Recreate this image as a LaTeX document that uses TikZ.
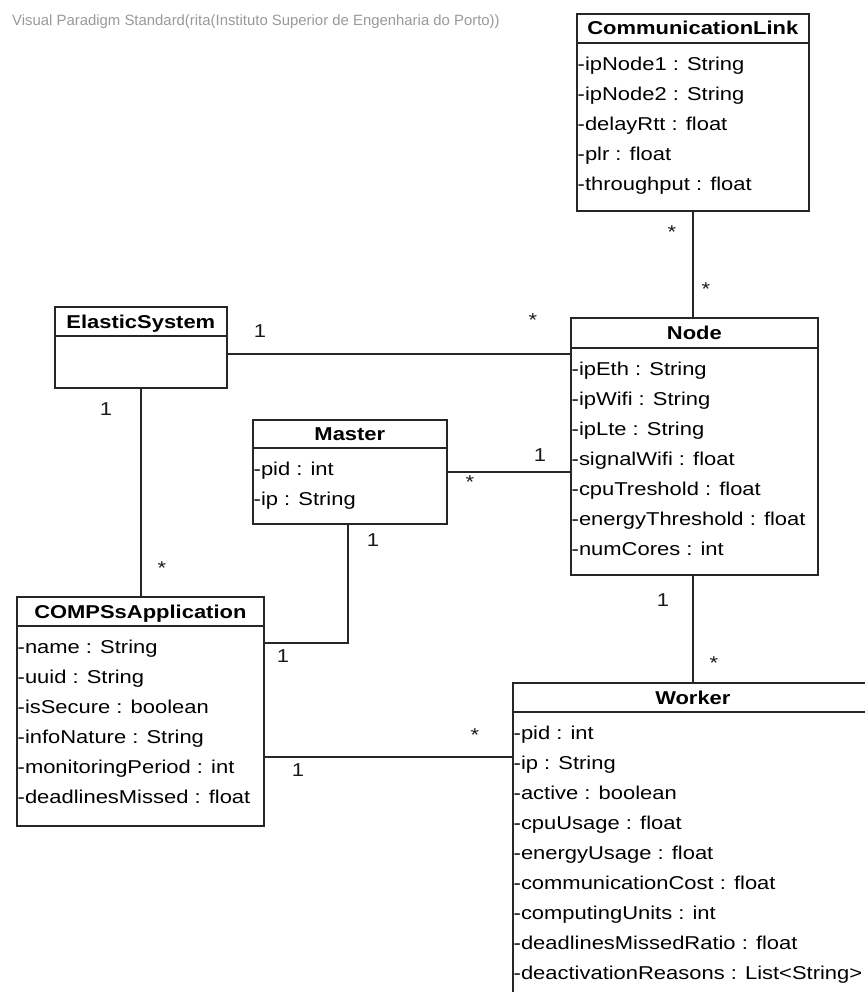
\documentclass[tikz,border=0pt]{standalone}
\usepackage{fontspec}
\newfontfamily\umlfont[FakeStretch=1.18]{Liberation Sans}
\newfontfamily\vpfont{Liberation Sans}

\begin{document}
\begin{tikzpicture}[x=1pt, y=-1pt,
    cls/.style={draw=black!85, line width=1.7pt, fill=white, anchor=north west,
                inner sep=0pt},
    clsname/.style={anchor=base, inner sep=0pt,
                    font=\umlfont\bfseries\fontsize{18.6}{22}\selectfont},
    attrs/.style={anchor=north west, align=left, inner xsep=1.5pt, inner ysep=6pt,
                  font=\umlfont\fontsize{18.6}{30}\selectfont},
    hline/.style={draw=black!85, line width=1.7pt},
    mult/.style={inner sep=0pt, text=black!90,
                 font=\umlfont\fontsize{18.6}{22}\selectfont},
    assoc/.style={draw=black!85, line width=1.4pt}]
  \useasboundingbox (0,0) rectangle (864,992);

  \node[anchor=base west, inner sep=0pt, text=black!40,
        font=\vpfont\fontsize{14.9}{16}\selectfont] (vp) at (12,26)
        {Visual Paradigm Standard(rita(Instituto Superior de Engenharia do Porto))};

  % classes
  \node[cls, minimum width=232pt, minimum height=197pt] (link) at (576,13) {};
  \node[clsname] (linkN) at ([yshift=-22pt]link.north) {CommunicationLink};
  \draw[hline] ([yshift=-30pt]link.north west) -- ([yshift=-30pt]link.north east);
  \node[attrs] (linkA) at ([yshift=-30pt]link.north west)
    {\strut-ipNode1 : String\\-ipNode2 : String\\-delayRtt : float\\-plr : float\\-throughput : float};

  \node[cls, minimum width=247pt, minimum height=257pt] (nd) at (570,317) {};
  \node[clsname] (ndN) at ([yshift=-22pt]nd.north) {Node};
  \draw[hline] ([yshift=-31pt]nd.north west) -- ([yshift=-31pt]nd.north east);
  \node[attrs] (ndA) at ([yshift=-31pt]nd.north west)
    {\strut-ipEth : String\\-ipWifi : String\\-ipLte : String\\-signalWifi : float\\
     -cpuTreshold : float\\-energyThreshold : float\\-numCores : int};

  \node[cls, minimum width=172pt, minimum height=81pt] (es) at (54,306) {};
  \node[clsname] (esN) at ([yshift=-22pt]es.north) {ElasticSystem};
  \draw[hline] ([yshift=-30pt]es.north west) -- ([yshift=-30pt]es.north east);

  \node[cls, minimum width=194pt, minimum height=104pt] (ms) at (252,419) {};
  \node[clsname] (msN) at ([yshift=-21pt]ms.north) {Master};
  \draw[hline] ([yshift=-29pt]ms.north west) -- ([yshift=-29pt]ms.north east);
  \node[attrs] (msA) at ([yshift=-29pt]ms.north west)
    {\strut-pid : int\\-ip : String};

  \node[cls, minimum width=247pt, minimum height=229pt] (app) at (16,596) {};
  \node[clsname] (appN) at ([yshift=-22pt]app.north) {COMPSsApplication};
  \draw[hline] ([yshift=-30pt]app.north west) -- ([yshift=-30pt]app.north east);
  \node[attrs] (appA) at ([yshift=-30pt]app.north west)
    {\strut-name : String\\-uuid : String\\-isSecure : boolean\\-infoNature : String\\
     -monitoringPeriod : int\\-deadlinesMissed : float};

  \node[cls, minimum width=360pt, minimum height=320pt] (wk) at (512,682) {};
  \node[clsname] (wkN) at ([yshift=-22pt]wk.north) {Worker};
  \draw[hline] ([yshift=-30pt]wk.north west) -- ([yshift=-30pt]wk.north east);
  \node[attrs] (wkA) at ([yshift=-30pt]wk.north west)
    {\strut-pid : int\\-ip : String\\-active : boolean\\-cpuUsage : float\\
     -energyUsage : float\\-communicationCost : float\\-computingUnits : int\\
     -deadlinesMissedRatio : float\\-deactivationReasons : List<String>};

  % associations
  \draw[assoc] (link.south) -- (link.south |- nd.north);
  \draw[assoc] ([yshift=-6.5pt]es.east) -- ([yshift=-6.5pt]es.east -| nd.west);
  \draw[assoc] (es.south) -- (es.south |- app.north);
  \draw[assoc] (ms.east) -- (ms.east -| nd.west);
  \draw[assoc] ([xshift=-2pt]ms.south) |- ([yshift=68.5pt]app.east);
  \draw[assoc] ([xshift=-1.5pt]nd.south) -- ([xshift=-1.5pt]nd.south |- wk.north);
  \draw[assoc] ([yshift=-45.5pt]app.east) -- ([yshift=-45.5pt]app.east -| wk.west);

  % multiplicities
  \node[mult] (m1)  at (672,232) {*};
  \node[mult] (m2)  at (706,289) {*};
  \node[mult] (m3)  at (260,331) {1};
  \node[mult] (m4)  at (533,320) {*};
  \node[mult] (m5)  at (106,409) {1};
  \node[mult] (m6)  at (162,568) {*};
  \node[mult] (m7)  at (540,455) {1};
  \node[mult] (m8)  at (470,482) {*};
  \node[mult] (m9)  at (373,540) {1};
  \node[mult] (m10) at (283,656) {1};
  \node[mult] (m11) at (663,600) {1};
  \node[mult] (m12) at (714,663) {*};
  \node[mult] (m13) at (475,735) {*};
  \node[mult] (m14) at (298,770) {1};
\end{tikzpicture}
\end{document}
